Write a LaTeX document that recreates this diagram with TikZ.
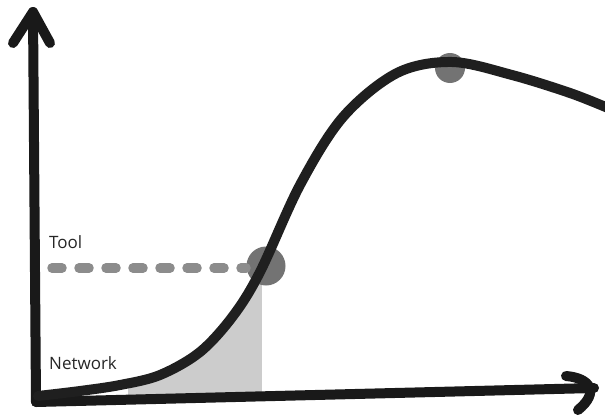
\documentclass[tikz,border=0pt]{standalone}
\usepackage{fontspec}
\setmainfont{Open Sans}
\begin{document}
\begin{tikzpicture}[x=1pt,y=-1pt,
  axisline/.style={line width=10pt,line cap=round,line join=round,black!90},
  curveline/.style={line width=10pt,line cap=round,line join=round,black!88},
  dotmark/.style={circle,fill=black!55,inner sep=0pt},
  dashline/.style={line width=9.5pt,line cap=round,black!45,dash pattern=on 10pt off 17pt},
  lbl/.style={font=\fontsize{17}{20}\selectfont,text=black!85,inner sep=0pt,anchor=west}]
\useasboundingbox (0,0) rectangle (605,415);
% coordinates
\coordinate (o) at (36,402);
\coordinate (ytop) at (33,12);
\coordinate (xend) at (594,388);
% shaded area under the curve
\begin{scope}
  \clip plot[smooth,tension=0.55] coordinates {(38,396) (80,391) (120,385) (160,375) (200,352) (233,316) (260,272) (300,185) (343,117)} -- (343,415) -- (38,415) -- cycle;
  \fill[black!20] (128,284) rectangle (262,400);
\end{scope}
% dots
\node[dotmark,minimum size=39pt] (tooldot) at (266,266) {};
\node[dotmark,minimum size=30pt] (peakdot) at (450,68) {};
% dashed line
\coordinate (dashstart) at (52,268);
\draw[dashline] (dashstart) -- ([xshift=-20pt,yshift=-2pt]tooldot.center);
% axes
\draw[axisline] (o) -- (ytop);
\draw[axisline] (13,43) -- (ytop) -- (50,43);
\draw[axisline] (o) -- (xend);
\draw[axisline] (566,376) .. controls (590,378) and (600,392) .. (578,410);
% curve
\draw[curveline] plot[smooth,tension=0.55] coordinates {(38,396) (80,391) (120,385) (160,375) (200,352) (233,316) (260,272) (300,185) (343,117) (397,73) (452,62) (512,75) (570,93) (608,108)};
% labels
\node[lbl] (tool) at (49,242) {Tool};
\node[lbl] (network) at (49,363) {Network};
\end{tikzpicture}
\end{document}
